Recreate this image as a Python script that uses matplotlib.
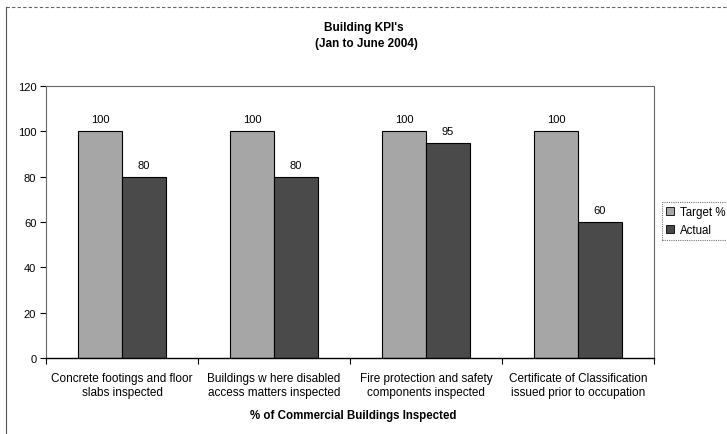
import matplotlib
matplotlib.use("Agg")
import matplotlib.pyplot as plt
import numpy as np
from matplotlib.patches import Patch
from matplotlib.lines import Line2D

categories = ["Concrete footings and floor\nslabs inspected",
              "Buildings w here disabled\naccess matters inspected",
              "Fire protection and safety\ncomponents inspected",
              "Certificate of Classification\nissued prior to occupation"]
target = [100, 100, 100, 100]
actual = [80, 80, 95, 60]
series_names = ["Target %", "Actual"]
yticks = [0, 20, 40, 60, 80, 100, 120]
title = "Building KPI's\n(Jan to June 2004)"
xlabel = "% of Commercial Buildings Inspected"

plt.rcParams['font.family'] = ['Liberation Sans', 'DejaVu Sans']
W, H = 727, 435
fig = plt.figure(figsize=(W / 100, H / 100), dpi=100)
fig.patch.set_facecolor('white')

ax = fig.add_axes([46 / W, 1 - 359 / H, (654 - 46) / W, (359 - 87) / H])

x = np.arange(len(categories))
bw = 0.29
c_target = '#a6a6a6'
c_actual = '#4a4a4a'
b1 = ax.bar(x - bw / 2, target, bw, color=c_target, edgecolor='black', linewidth=0.8)
b2 = ax.bar(x + bw / 2, actual, bw, color=c_actual, edgecolor='black', linewidth=0.8)

for bars, vals in ((b1, target), (b2, actual)):
    for r, v in zip(bars, vals):
        ax.annotate(f"{v}", (r.get_x() + r.get_width() / 2, v), xytext=(0, 12),
                    textcoords='offset pixels', ha='center', va='center', fontsize=8)

ax.set_xlim(-0.5, len(categories) - 0.5)
ax.set_ylim(0, 120)
ax.set_yticks(yticks)
ax.set_yticklabels([str(t) for t in yticks], fontsize=8)
ax.set_xticks(x)
ax.set_xticklabels(categories, fontsize=8.5, linespacing=1.25)
ax.set_xticks(np.arange(len(categories) + 1) - 0.5, minor=True)
ax.tick_params(axis='x', which='major', length=0, pad=10)
ax.tick_params(axis='x', which='minor', length=4, direction='out', width=0.8)
ax.tick_params(axis='y', length=4, direction='out', width=0.8, pad=3)

for s in ['top', 'right', 'left']:
    ax.spines[s].set_linestyle((0, (1, 1)))
    ax.spines[s].set_color('#666666')
    ax.spines[s].set_linewidth(0.8)
ax.spines['bottom'].set_color('black')
ax.spines['bottom'].set_linewidth(1.0)

fig.text(364 / W, 1 - 28 / H, "Building KPI's", ha='center', va='center',
         fontsize=8.5, fontweight='bold')
fig.text(366 / W, 1 - 44 / H, "(Jan to June 2004)", ha='center', va='center',
         fontsize=8.5, fontweight='bold')
fig.text(353 / W, 1 - 416 / H, xlabel, ha='center', va='center', fontsize=8.3, fontweight='bold')

handles = [Patch(facecolor=c_target, edgecolor='black', linewidth=0.6),
           Patch(facecolor=c_actual, edgecolor='black', linewidth=0.6)]
leg = fig.legend(handles, series_names, loc='upper left',
                 bbox_to_anchor=(662 / W, 1 - 203 / H), fontsize=8.3,
                 handlelength=0.7, handleheight=0.7, handletextpad=0.5,
                 borderpad=0.35, labelspacing=0.5, borderaxespad=0,
                 frameon=True, fancybox=False)
leg.get_frame().set_edgecolor('#555555')
leg.get_frame().set_linestyle((0, (1, 1)))
leg.get_frame().set_linewidth(0.8)

# outer chart frame (partially visible)
fig.add_artist(Line2D([6 / W, 1.0], [1 - 8 / H, 1 - 8 / H], color='#666666', lw=0.8,
                      linestyle=(0, (3, 2)), transform=fig.transFigure))
fig.add_artist(Line2D([6 / W, 6 / W], [0, 1 - 8 / H], color='#555555', lw=0.8,
                      transform=fig.transFigure))

fig.savefig('out.png', dpi=100)
